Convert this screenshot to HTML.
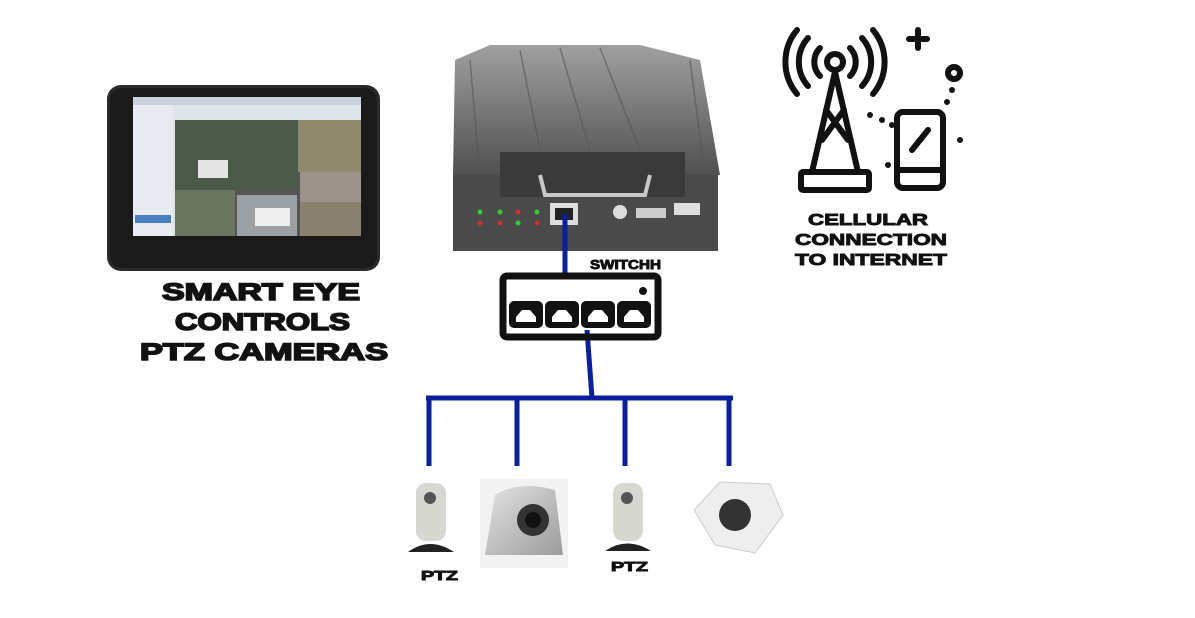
<!DOCTYPE html>
<html><head><meta charset="utf-8"><style>
body{margin:0;background:#fff;width:1195px;height:618px;overflow:hidden}
svg{display:block}
text{font-family:"Liberation Sans",sans-serif;font-weight:900;fill:#111;stroke:#111}
</style></head><body>
<svg width="1195" height="618" viewBox="0 0 1195 618">
<defs>
<linearGradient id="dvr" x1="0" y1="0" x2="0" y2="1"><stop offset="0" stop-color="#a0a0a0"/><stop offset="1" stop-color="#505050"/></linearGradient>
<linearGradient id="sil" x1="0" y1="0" x2="1" y2="1"><stop offset="0" stop-color="#e4e4e4"/><stop offset="1" stop-color="#9a9a9a"/></linearGradient>
</defs>
<!-- tablet -->
<rect x="107" y="85" width="273" height="186" rx="14" fill="#2a2a2a"/>
<rect x="110" y="88" width="267" height="180" rx="12" fill="#1a1a1a"/>
<rect x="133" y="97" width="228" height="139" fill="#dfe4ea"/>
<rect x="133" y="97" width="228" height="8" fill="#c9d3de"/>
<rect x="133" y="105" width="40" height="131" fill="#e8ecf0"/>
<rect x="135" y="215" width="36" height="8" fill="#4a7fc1"/>
<rect x="175" y="120" width="186" height="116" fill="#555"/>
<rect x="175" y="120" width="123" height="70" fill="#4c5a4a"/>
<rect x="298" y="120" width="63" height="52" fill="#8f8a6e"/>
<rect x="300" y="172" width="61" height="30" fill="#9c948a"/>
<rect x="175" y="190" width="60" height="46" fill="#6a7560"/>
<rect x="237" y="195" width="60" height="41" fill="#9aa0a4"/>
<rect x="300" y="202" width="61" height="34" fill="#8a8070"/>
<rect x="198" y="160" width="30" height="18" fill="#e6e6e6"/>
<rect x="255" y="208" width="35" height="18" fill="#eee"/>
<!-- DVR -->
<path d="M455 60 L490 45 L640 45 L700 60 L720 175 L453 175 Z" fill="url(#dvr)"/>
<g stroke="#555" stroke-width="1.5" opacity="0.6"><line x1="520" y1="50" x2="540" y2="150"/><line x1="560" y1="48" x2="590" y2="150"/><line x1="600" y1="48" x2="640" y2="150"/><line x1="470" y1="60" x2="480" y2="175"/><line x1="690" y1="60" x2="705" y2="175"/></g>
<rect x="453" y="175" width="265" height="76" fill="#4a4a4a"/>
<rect x="500" y="152" width="185" height="45" fill="#3a3a3a"/>
<path d="M540 175 L545 195 L645 195 L650 175" stroke="#c8c8c8" stroke-width="4" fill="none"/>
<rect x="550" y="203" width="28" height="22" fill="#ddd"/>
<rect x="555" y="208" width="18" height="12" fill="#222"/>
<circle cx="620" cy="212" r="7" fill="#ddd"/>
<rect x="636" y="208" width="30" height="10" fill="#ccc"/>
<rect x="674" y="203" width="26" height="12" fill="#ddd"/>
<circle cx="480" cy="212" r="2.5" fill="#3c3"/><circle cx="500" cy="212" r="2.5" fill="#3c3"/><circle cx="518" cy="212" r="2.5" fill="#c33"/><circle cx="537" cy="212" r="2.5" fill="#3c3"/>
<circle cx="480" cy="223" r="2.5" fill="#c33"/><circle cx="500" cy="223" r="2.5" fill="#c33"/><circle cx="518" cy="223" r="2.5" fill="#3c3"/><circle cx="537" cy="223" r="2.5" fill="#c33"/>
<!-- blue lines -->
<g stroke="#0a1fa0" stroke-width="5" fill="none">
<line x1="565" y1="214" x2="565" y2="275"/>
<line x1="587" y1="330" x2="592" y2="398"/>
<line x1="426" y1="398" x2="733" y2="398"/>
<line x1="429" y1="398" x2="429" y2="466"/>
<line x1="517" y1="398" x2="517" y2="466"/>
<line x1="625" y1="398" x2="625" y2="466"/>
<line x1="729" y1="398" x2="729" y2="466"/>
</g>
<!-- switch -->
<rect x="503" y="276" width="155" height="61" rx="4" fill="none" stroke="#111" stroke-width="7"/>
<circle cx="643" cy="291" r="4" fill="#111"/>
<g fill="#111">
<rect x="509" y="301" width="34" height="27" rx="5"/><rect x="545" y="301" width="34" height="27" rx="5"/><rect x="581" y="301" width="34" height="27" rx="5"/><rect x="617" y="301" width="34" height="27" rx="5"/>
</g>
<g fill="#fff">
<path d="M516 322 L516 317 L522 310 L530 310 L536 317 L536 322Z"/><path d="M552 322 L552 317 L558 310 L566 310 L572 317 L572 322Z"/><path d="M588 322 L588 317 L594 310 L602 310 L608 317 L608 322Z"/><path d="M624 322 L624 317 L630 310 L638 310 L644 317 L644 322Z"/>
</g>
<!-- cell icon -->
<g stroke="#111" stroke-width="6" fill="none" stroke-linecap="round">
<circle cx="835" cy="62" r="8"/>
<path d="M820 48 A20 20 0 0 0 820 76 M850 48 A20 20 0 0 1 850 76"/>
<path d="M808 38 A36 36 0 0 0 808 86 M862 38 A36 36 0 0 1 862 86"/>
<path d="M797 30 A50 50 0 0 0 797 94 M873 30 A50 50 0 0 1 873 94"/>
<path d="M835 72 L812 172 M835 72 L858 172 M826 110 L848 140 M844 110 L822 140"/>
<rect x="801" y="172" width="68" height="18" rx="2"/>
<rect x="897" y="112" width="46" height="76" rx="6"/>
<line x1="897" y1="170" x2="943" y2="170"/>
<line x1="912" y1="150" x2="928" y2="130"/>
<path d="M918 30 v18 M909 39 h18"/>
<circle cx="954" cy="73" r="6"/>
</g>
<g fill="#111"><circle cx="870" cy="115" r="3"/><circle cx="882" cy="120" r="3"/><circle cx="892" cy="125" r="3"/><circle cx="952" cy="90" r="3"/><circle cx="947" cy="102" r="3"/><circle cx="960" cy="140" r="3"/><circle cx="888" cy="165" r="3"/></g>
<!-- cameras -->
<rect x="416" y="483" width="30" height="58" rx="10" fill="#d8d8d2"/>
<circle cx="430" cy="498" r="6" fill="#555"/>
<path d="M408 552 Q430 536 454 552 Z" fill="#222"/>
<rect x="480" y="479" width="88" height="89" fill="#f2f2f2"/>
<path d="M485 555 L495 495 Q520 480 555 490 L563 555Z" fill="url(#sil)"/>
<circle cx="533" cy="520" r="16" fill="#333"/><circle cx="533" cy="520" r="8" fill="#111"/>
<rect x="613" y="483" width="30" height="58" rx="10" fill="#d8d8d2"/>
<circle cx="627" cy="498" r="6" fill="#555"/>
<path d="M605 551 Q627 536 651 551 Z" fill="#222"/>
<path d="M694 510 L720 482 L770 484 L783 515 L755 553 L715 545Z" fill="#eeeeee" stroke="#ccc"/>
<circle cx="735" cy="515" r="16" fill="#333"/>
<!-- labels -->
<g stroke-width="1.6">
<text x="162" y="300" font-size="24" textLength="198" lengthAdjust="spacingAndGlyphs">SMART EYE</text>
<text x="175" y="330" font-size="24" textLength="175" lengthAdjust="spacingAndGlyphs">CONTROLS</text>
<text x="140" y="360" font-size="24" textLength="248" lengthAdjust="spacingAndGlyphs">PTZ CAMERAS</text>
</g>
<g stroke-width="0.9">
<text x="590" y="269" font-size="13" textLength="71" lengthAdjust="spacingAndGlyphs">SWITCHH</text>
<text x="808" y="225" font-size="16" textLength="120" lengthAdjust="spacingAndGlyphs">CELLULAR</text>
<text x="795" y="245" font-size="16" textLength="152" lengthAdjust="spacingAndGlyphs">CONNECTION</text>
<text x="795" y="265" font-size="16" textLength="152" lengthAdjust="spacingAndGlyphs">TO INTERNET</text>
<text x="421" y="580" font-size="13" textLength="37" lengthAdjust="spacingAndGlyphs">PTZ</text>
<text x="611" y="571" font-size="13" textLength="37" lengthAdjust="spacingAndGlyphs">PTZ</text>
</g>
</svg>
</body></html>
